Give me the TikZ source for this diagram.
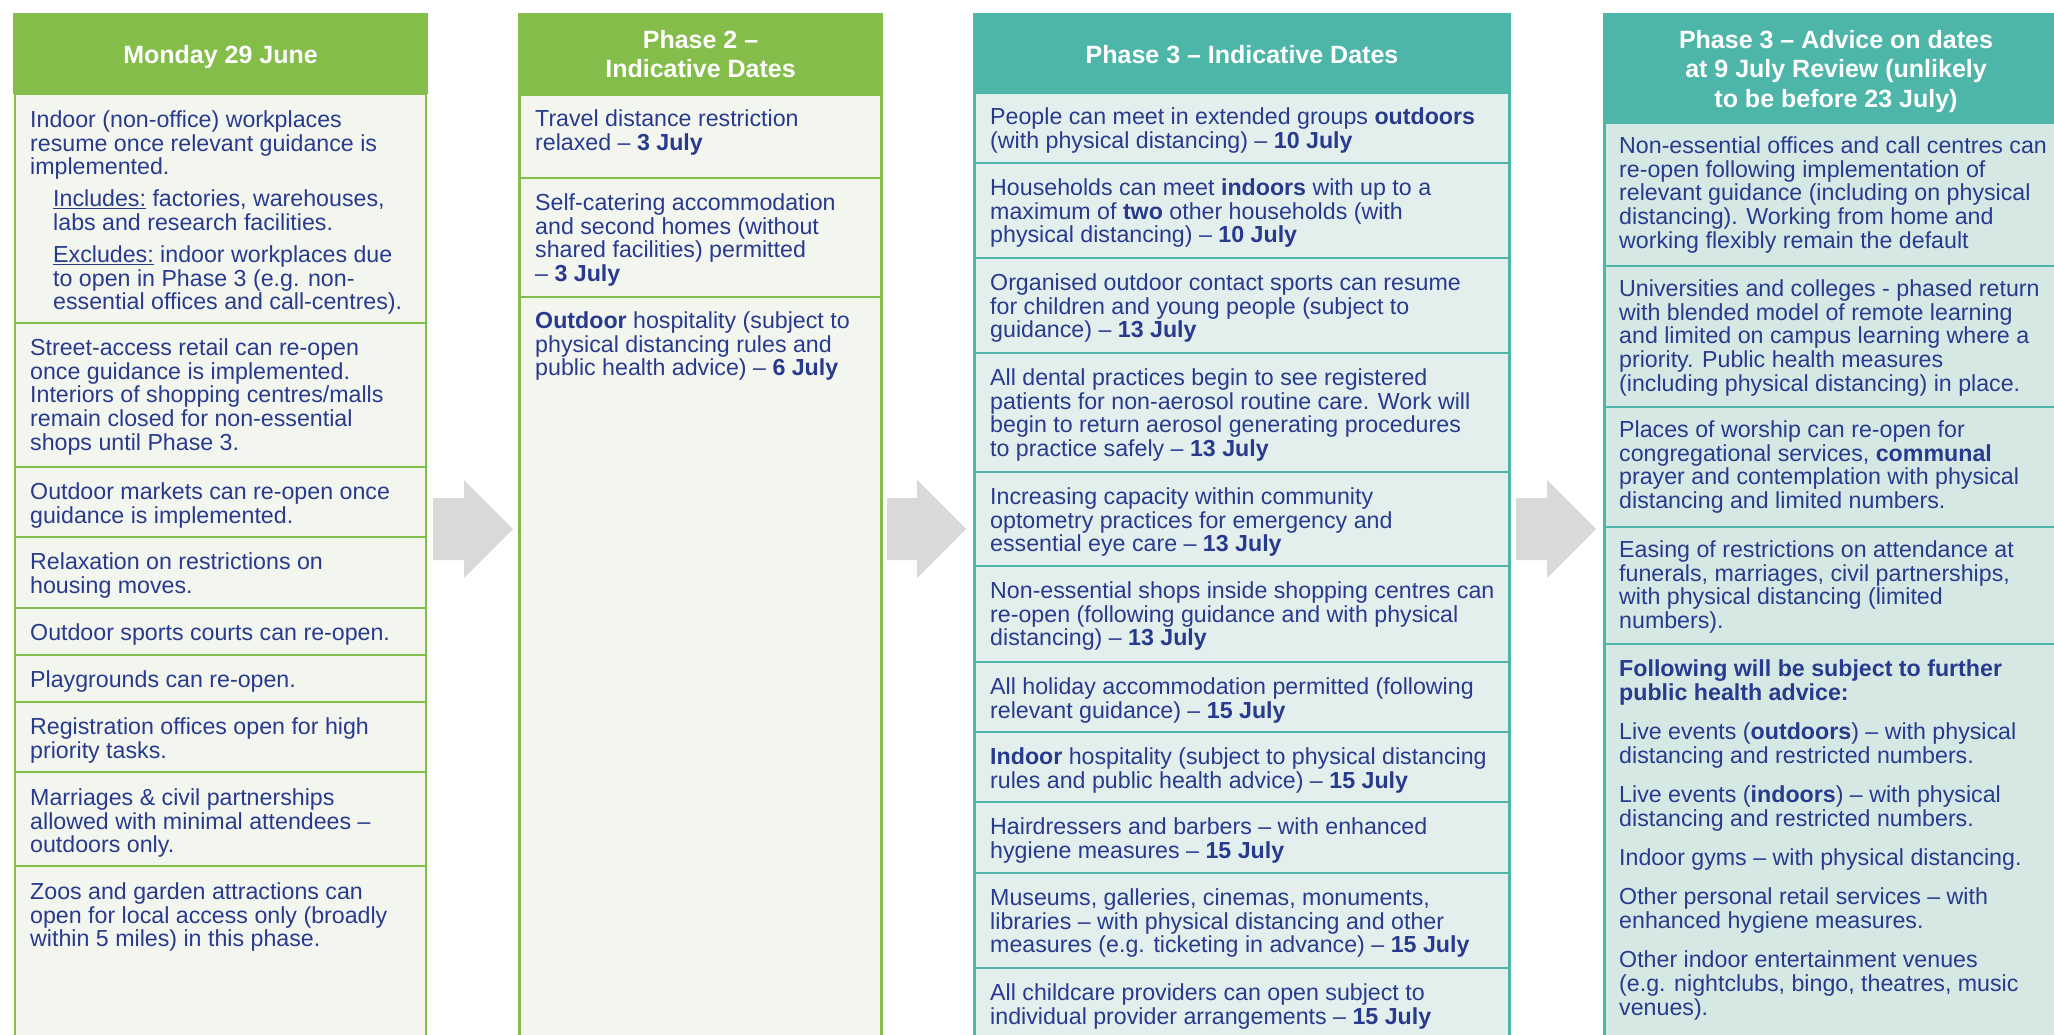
\documentclass[tikz,border=0pt]{standalone}
\usepackage{fontspec}
\setmainfont{Liberation Sans}
\definecolor{grn}{HTML}{85BD4B}
\definecolor{grnfill}{HTML}{F3F6EE}
\definecolor{teal}{HTML}{4DB6A8}
\definecolor{tealfillA}{HTML}{E2EFEC}
\definecolor{tealfillB}{HTML}{D5E8E4}
\definecolor{navy}{HTML}{283A8E}
\definecolor{arrgray}{HTML}{D9D9D9}
\tikzset{
  hdrG/.style={fill=grn},
  hdrT/.style={fill=teal},
  cellG/.style={fill=grnfill, draw=grn, line width=2.5pt},
  cellTA/.style={fill=tealfillA, draw=teal, line width=2.5pt},
  cellTB/.style={fill=tealfillB, draw=teal, line width=2.5pt},
  hdrtxt/.style={text=white, font=\fontsize{25}{29.5}\selectfont\bfseries, inner sep=0pt, align=center},
  txt/.style={text=navy, font=\fontsize{23.2}{23.8}\selectfont, inner sep=0pt, align=left, anchor=north west},
  chevron/.style={fill=arrgray}
}
\newcommand\st{\rule{0pt}{19pt}}
\newcommand\hst{\rule{0pt}{20pt}}
\begin{document}
\begin{tikzpicture}[x=1pt,y=-1pt]
\useasboundingbox (0,0) rectangle (2054,1034);
\clip (0,0) rectangle (2054,1034);
\fill[white] (0,0) rectangle (2054,1034);

% ---------------- Column 1 ----------------
\fill[hdrG] (13,13) rectangle (428,94);
\node[hdrtxt, anchor=base] (h1) at (220.5,63) {Monday 29 June};
\path[cellG] (15,94) rectangle (426,323);
\path[cellG] (15,323) rectangle (426,467);
\path[cellG] (15,467) rectangle (426,537);
\path[cellG] (15,537) rectangle (426,608);
\path[cellG] (15,608) rectangle (426,655);
\path[cellG] (15,655) rectangle (426,702);
\path[cellG] (15,702) rectangle (426,772);
\path[cellG] (15,772) rectangle (426,866);
\path[cellG] (15,866) rectangle (426,1045);

\node[txt] (a1) at (30,108) {\st Indoor (non-office) workplaces\\resume once relevant guidance is\\implemented.\\[8pt]
\hspace*{23pt}\underline{Includes:} factories, warehouses,\\\hspace*{23pt}labs and research facilities.\\[8pt]
\hspace*{23pt}\underline{Excludes:} indoor workplaces due\\\hspace*{23pt}to open in Phase 3 (e.g. non-\\\hspace*{23pt}essential offices and call-centres).};
\node[txt] (a2) at (30,336) {\st Street-access retail can re-open\\once guidance is implemented.\\Interiors of shopping centres/malls\\remain closed for non-essential\\shops until Phase 3.};
\node[txt] (a3) at (30,480) {\st Outdoor markets can re-open once\\guidance is implemented.};
\node[txt] (a4) at (30,550) {\st Relaxation on restrictions on\\housing moves.};
\node[txt] (a5) at (30,621) {\st Outdoor sports courts can re-open.};
\node[txt] (a6) at (30,668) {\st Playgrounds can re-open.};
\node[txt] (a7) at (30,715) {\st Registration offices open for high\\priority tasks.};
\node[txt] (a8) at (30,786) {\st Marriages \& civil partnerships\\allowed with minimal attendees –\\outdoors only.};
\node[txt] (a9) at (30,880) {\st Zoos and garden attractions can\\open for local access only (broadly\\within 5 miles) in this phase.};

% ---------------- Column 2 ----------------
\fill[hdrG] (518,13) rectangle (883,95);
\node[hdrtxt, anchor=north] (h2) at (700.5,28) {\hst Phase 2 –\\Indicative Dates};
\path[cellG] (519.5,95) rectangle (881.5,178);
\path[cellG] (519.5,178) rectangle (881.5,297);
\path[cellG] (519.5,297) rectangle (881.5,1045);
\node[txt] (b1) at (535,107) {\st Travel distance restriction\\relaxed – \textbf{3 July}};
\node[txt] (b2) at (535,191) {\st Self-catering accommodation\\and second homes (without\\shared facilities) permitted\\– \textbf{3 July}};
\node[txt] (b3) at (535,309) {\st\textbf{Outdoor} hospitality (subject to\\physical distancing rules and\\public health advice) – \textbf{6 July}};

% ---------------- Column 3 ----------------
\fill[hdrT] (973,13) rectangle (1511,93);
\node[hdrtxt, anchor=base] (h3) at (1242,63) {Phase 3 – Indicative Dates};
\path[cellTA] (974.5,93) rectangle (1509.5,163);
\path[cellTA] (974.5,163) rectangle (1509.5,258);
\path[cellTA] (974.5,258) rectangle (1509.5,353);
\path[cellTA] (974.5,353) rectangle (1509.5,472);
\path[cellTA] (974.5,472) rectangle (1509.5,566);
\path[cellTA] (974.5,566) rectangle (1509.5,662);
\path[cellTA] (974.5,662) rectangle (1509.5,732);
\path[cellTA] (974.5,732) rectangle (1509.5,802);
\path[cellTA] (974.5,802) rectangle (1509.5,873);
\path[cellTA] (974.5,873) rectangle (1509.5,968);
\path[cellTA] (974.5,968) rectangle (1509.5,1045);
\node[txt] (c1) at (990,105) {\st People can meet in extended groups \textbf{outdoors}\\(with physical distancing) – \textbf{10 July}};
\node[txt] (c2) at (990,176) {\st Households can meet \textbf{indoors} with up to a\\maximum of \textbf{two} other households (with\\physical distancing) – \textbf{10 July}};
\node[txt] (c3) at (990,271) {\st Organised outdoor contact sports can resume\\for children and young people (subject to\\guidance) – \textbf{13 July}};
\node[txt] (c4) at (990,366) {\st All dental practices begin to see registered\\patients for non-aerosol routine care. Work will\\begin to return aerosol generating procedures\\to practice safely – \textbf{13 July}};
\node[txt] (c5) at (990,485) {\st Increasing capacity within community\\optometry practices for emergency and\\essential eye care – \textbf{13 July}};
\node[txt] (c6) at (990,579) {\st Non-essential shops inside shopping centres can\\re-open (following guidance and with physical\\distancing) – \textbf{13 July}};
\node[txt] (c7) at (990,675) {\st All holiday accommodation permitted (following\\relevant guidance) – \textbf{15 July}};
\node[txt] (c8) at (990,745) {\st\textbf{Indoor} hospitality (subject to physical distancing\\rules and public health advice) – \textbf{15 July}};
\node[txt] (c9) at (990,815) {\st Hairdressers and barbers – with enhanced\\hygiene measures – \textbf{15 July}};
\node[txt] (c10) at (990,886) {\st Museums, galleries, cinemas, monuments,\\libraries – with physical distancing and other\\measures (e.g. ticketing in advance) – \textbf{15 July}};
\node[txt] (c11) at (990,981) {\st All childcare providers can open subject to\\individual provider arrangements – \textbf{15 July}};

% ---------------- Column 4 ----------------
\fill[hdrT] (1603,13) rectangle (2070,123);
\node[hdrtxt, anchor=north] (h4) at (1836,28) {\hst Phase 3 – Advice on dates\\at 9 July Review (unlikely\\to be before 23 July)};
\path[cellTB] (1604.5,123) rectangle (2080,266);
\path[cellTB] (1604.5,266) rectangle (2080,407);
\path[cellTB] (1604.5,407) rectangle (2080,527);
\path[cellTB] (1604.5,527) rectangle (2080,644);
\path[cellTB] (1604.5,644) rectangle (2080,1045);
\node[txt] (d1) at (1619,134) {\st Non-essential offices and call centres can\\re-open following implementation of\\relevant guidance (including on physical\\distancing). Working from home and\\working flexibly remain the default};
\node[txt] (d2) at (1619,277) {\st Universities and colleges - phased return\\with blended model of remote learning\\and limited on campus learning where a\\priority. Public health measures\\(including physical distancing) in place.};
\node[txt] (d3) at (1619,418) {\st Places of worship can re-open for\\congregational services, \textbf{communal}\\prayer and contemplation with physical\\distancing and limited numbers.};
\node[txt] (d4) at (1619,538) {\st Easing of restrictions on attendance at\\funerals, marriages, civil partnerships,\\with physical distancing (limited\\numbers).};
\node[txt] (d5) at (1619,657) {\st\textbf{Following will be subject to further}\\\textbf{public health advice:}\\[15.5pt]
Live events (\textbf{outdoors}) – with physical\\distancing and restricted numbers.\\[15.5pt]
Live events (\textbf{indoors}) – with physical\\distancing and restricted numbers.\\[15.5pt]
Indoor gyms – with physical distancing.\\[15.5pt]
Other personal retail services – with\\enhanced hygiene measures.\\[15.5pt]
Other indoor entertainment venues\\(e.g. nightclubs, bingo, theatres, music\\venues).};

% ---------------- Arrows ----------------
\fill[chevron] (433,498) -- (464,498) -- (464,480) -- (513,529) -- (464,578) -- (464,560) -- (433,560) -- cycle;
\fill[chevron] (887,498) -- (917,498) -- (917,480) -- (966,529) -- (917,578) -- (917,560) -- (887,560) -- cycle;
\fill[chevron] (1516,498) -- (1547,498) -- (1547,480) -- (1596,529) -- (1547,578) -- (1547,560) -- (1516,560) -- cycle;
\end{tikzpicture}
\end{document}
